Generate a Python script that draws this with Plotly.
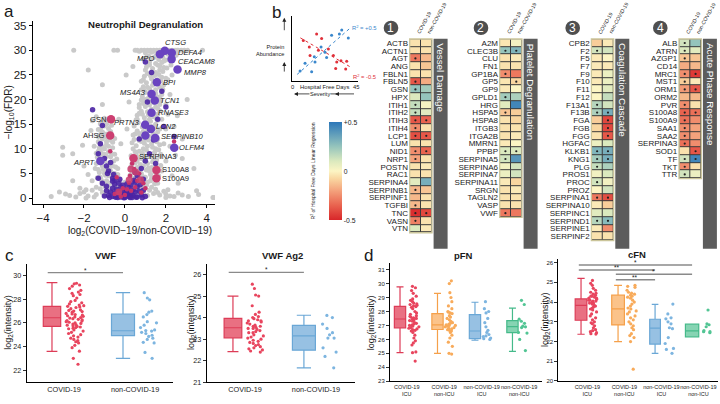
import numpy as np
import plotly.graph_objects as go

W, H = 720, 404
def PX(x): return x / W
def PY(y): return 1 - y / H

FONT = "Liberation Sans, Arial, Helvetica, sans-serif"
TXT = "#1a1a1a"

# ---------------- Panel a: volcano data ----------------
gray_pts = [
    (-3.6,0.3),(-2.9,0.8),(-2.4,0.2),(-2.0,1.2),(-1.8,0.4),(-1.6,1.6),(-1.4,0.7),(-1.2,1.9),(-1.0,0.5),(-0.9,1.4),
    (-0.8,2.2),(-0.7,0.9),(-0.6,1.7),(-0.5,0.3),(-0.4,2.0),(-0.3,1.1),(-0.2,2.4),(-0.1,0.6),(0.0,1.5),(0.1,2.3),
    (0.2,0.8),(0.3,1.8),(0.4,0.4),(0.5,2.1),(0.6,1.2),(0.7,0.6),(0.8,1.9),(0.9,1.0),(1.0,2.4),(1.1,0.5),
    (1.2,1.6),(1.3,2.2),(1.4,0.9),(1.5,1.8),(1.7,0.6),(1.9,1.4),(2.2,0.4),(2.6,1.0),(3.1,0.3),(3.6,0.7),(4.3,0.1),
    (-2.7,0.5),(-2.2,0.9),(-1.5,0.2),(-1.1,1.1),(2.0,0.8),(2.4,0.3),(2.8,0.6),(1.6,1.1),(-1.9,1.7),(2.1,1.7),
    (-0.5,2.5),(-0.7,3),(-0.9,3.5),(-1.1,2.8),(-0.6,4),(-0.8,4.5),(-1.0,5),(-1.2,4.2),(-0.7,5.5),(-0.9,6),
    (-1.1,6.5),(-1.3,5.8),(-0.8,7),(-1.0,7.5),(-1.2,8),(-0.9,8.5),(-1.1,9),(-1.3,9.5),(-1.0,10),(-0.8,10.5),
    (-1.2,11),(-0.9,11.5),(-1.1,12),(-1.3,12.5),(-1.0,13),(-0.7,13.5),(-1.2,14),(-0.9,15),(-1.1,15.5),(-1.4,16.5),
    (-0.6,6.5),(-0.5,5),(-1.4,7),(-1.5,10.5),(-1.6,3.5),(-1.4,2.2),(-0.4,3.5),(-0.35,6),(-0.3,1.8),
    (-0.45,4.5),(-0.55,7.5),(-0.65,9),(-0.75,11.8),(-0.85,13),(-1.25,10.2),(-1.35,8.3),(-1.45,6.0),(-1.15,3.6),(-0.95,2.2),
    (-0.25,3.2),(-0.35,4.8),(-0.45,6.3),(-0.55,3.9),(-0.65,5.1),(-0.75,6.2),(-0.85,3.2),(-0.95,4.6),(-1.05,5.8),(-1.15,7.1),
    (-1.25,5.2),(-1.35,4.1),(-0.4,7.9),(-0.5,8.9),(-0.6,10.2),(-0.7,8.4),(-0.8,9.4),(-0.9,10.8),(-1.0,8.9),(-1.1,10.4),
    (-1.2,9.6),(-1.3,11.4),(-1.4,9.1),(-0.5,12.1),(-0.6,11.3),(-0.7,12.6),(-0.8,14.1),(-0.9,12.4),(-1.0,14.6),(-1.1,13.4),
    (-1.2,12.9),(-1.3,13.9),(-0.65,14.8),(-0.85,15.8),(-1.0,16.2),(-1.2,15.1),
    (0.3,2.5),(0.5,3),(0.7,3.5),(0.9,2.8),(1.1,3.2),(0.4,4),(0.6,4.5),(0.8,5),(1.0,4.2),(1.2,5.5),
    (0.5,5.5),(0.7,6),(0.9,6.5),(1.1,7),(1.3,6.2),(0.6,7.5),(0.8,8),(1.0,8.5),(1.2,9),(1.4,8),
    (0.7,9.5),(0.9,10),(1.1,10.5),(1.3,11),(1.5,10),(0.8,11.5),(1.0,12),(1.2,12.5),(1.4,13),(1.6,12),
    (0.9,13.5),(1.1,14),(1.3,14.5),(1.5,15),(1.7,14),(1.0,15.5),(1.2,16),(1.4,16.5),(1.6,17),(1.8,16),
    (1.1,17.5),(1.3,18),(1.5,18.5),(1.7,19),(1.2,19.5),(1.4,20),(1.6,20.5),(1.8,21),(1.3,21.5),(1.5,22),
    (1.7,22.5),(1.9,23),(1.4,23.5),(1.6,24),(1.8,24.5),(1.5,25.5),(1.7,26),(1.9,26.5),(1.6,27),(1.8,27.5),
    (2.0,28),(1.4,28.5),(1.2,27),(1.0,26),(0.9,24),(0.8,22),(0.7,19),(0.6,16),(0.5,13),(0.4,10),
    (0.35,7),(2.0,19),(2.1,17),(2.2,21),(2.0,14),(1.9,11),(1.7,8.5),(1.5,6.5),(1.3,4),(2.3,25),
    (2.1,24),(1.1,22.5),(1.0,20),(1.6,3.0),(1.8,5.5),(2.0,7.5),(2.2,10.5),(2.4,14.5),(0.55,8.8),(0.75,12.6),
    (0.85,17),(1.25,24.8),(1.05,28.6),(1.75,29.0),(2.25,27.0),(2.5,29.0),
    (0.0,3.2),(0.15,2.8),(0.45,3.6),(0.65,2.3),(0.85,3.9),(1.05,2.6),(1.25,3.5),(1.45,2.9),(1.55,3.8),
    (0.25,4.6),(0.45,5.8),(0.65,5.1),(0.85,4.4),(1.05,5.7),(1.25,4.8),(1.45,5.3),(1.65,4.5),(0.35,5.2),
    (0.3,6.4),(0.5,7.1),(0.75,6.8),(0.95,7.6),(1.15,6.1),(1.35,7.3),(1.55,7.7),(1.75,6.6),(0.6,6.2),
    (0.3,8.6),(0.5,9.4),(0.65,8.2),(0.85,9.1),(1.05,9.7),(1.25,8.4),(1.45,9.3),(1.65,9.8),(1.75,8.9),
    (0.35,11.2),(0.55,10.6),(0.7,11.7),(0.95,11.1),(1.15,11.8),(1.35,10.3),(1.55,11.4),(1.7,10.8),(0.45,11.9),
    (0.4,12.8),(0.6,13.6),(0.8,12.3),(1.05,13.2),(1.25,13.8),(1.45,12.6),(1.6,13.4),(0.7,13.1),
    (0.45,14.6),(0.65,15.3),(0.85,14.4),(1.05,14.8),(1.25,15.6),(1.45,14.2),(1.6,15.8),(0.55,15.9),
    (0.6,16.8),(0.8,17.6),(0.95,16.3),(1.15,16.9),(1.35,17.4),(1.55,16.1),(1.7,17.7),(0.7,17.2),
    (0.7,18.4),(0.9,19.2),(1.0,18.6),(1.2,18.9),(1.4,19.4),(1.6,18.2),(1.75,19.7),(0.8,19.9),
    (0.85,20.6),(1.0,21.4),(1.15,20.3),(1.3,20.9),(1.5,21.2),(1.7,20.4),(0.95,21.8),
    (0.9,22.6),(1.05,23.4),(1.2,22.2),(1.35,22.9),(1.55,23.2),(1.75,23.8),(1.85,22.1),
    (0.95,24.7),(1.1,25.3),(1.3,24.2),(1.45,24.9),(1.65,25.1),(1.85,25.7),(2.0,24.3),
    (1.05,26.6),(1.2,27.6),(1.35,26.3),(1.5,27.3),(1.7,26.8),(1.9,27.8),(2.05,26.4),
    (0.9,28.2),(1.15,28.9),(1.3,28.4),(1.5,28.8),(1.65,28.1),(1.85,28.7),(2.1,29.2),(2.3,28.6),
    (0.8,30),(0.95,30),(1.1,30),(1.25,30),(1.4,30),(1.55,30),(1.7,30),(1.85,30),(2.0,30),(2.15,30),
    (2.3,30),(2.45,30),(2.6,30),(2.75,30),(2.9,30),(1.0,29.5),(1.3,29.6),(1.6,29.4),(1.9,29.6),(2.2,29.5),
    (2.5,29.6),(0.6,30),(0.5,30),(0.7,29.8),(1.2,29.9),(1.45,29.8),(1.8,29.9),(2.05,29.8),(2.35,29.9),(2.55,30),
    (-0.36,30),(-0.54,30),(-2.5,30),(3.06,30),(3.79,30),(4.6,30),
    (-3.04,10.3),(-2.55,9.0),(-2.07,10.7),(-1.66,13.7),(-1.59,15.7),(-1.1,19),(-1.79,26),(-1.1,23),(0.06,25),(0.39,26.7),
    (0.8,23.7),(3.04,20),(2.56,16.7),(2.8,12),(2.47,8.7),(2.8,8),(3.37,6),(-3.04,8.7),(-2.55,3.5),(-1.9,0),
    (2.0,0.1),(4.35,0.1),(-2.0,6.5),(-1.8,4.8),(2.3,4.5),(2.6,3),(-3.2,1.2),(3.5,1.5),(-0.2,11),(0.1,14),
    (-0.3,16),(0.2,19.5),(-2.2,2),
]
gray_x = [p[0] for p in gray_pts]
gray_y = [p[1] for p in gray_pts]

purple_x = [-0.8,-0.6,-0.4,-0.2,0.0,0.2,0.4,0.6,0.8,-0.7,-0.5,-0.3,-0.1,0.1,0.3,0.5,0.7,
            -0.6,-0.4,-0.2,0.0,0.2,0.4,0.6,-0.5,-0.3,-0.1,0.1,0.3,0.5,-0.9,0.9,-1.0,1.0,-0.35,0.35,0.0,-0.15,0.15,
            -1.3,-1.0,-0.9,-0.8,-0.6,-1.3,-1.1,-0.5,-1.58,-1.1,-1.2,-0.7,
            0.6,0.8,1.0,1.2,0.5,0.9,1.4,1.8,1.0,1.3,1.6,2.0,0.7,1.1,1.5,2.4,1.9,
            -0.75,-0.45,-0.05,0.25,0.55,0.85,-0.9,-0.6,-0.25,0.45,0.75,-0.85,-0.55]
purple_y = [0.5,0.3,0.6,0.2,0.4,0.3,0.5,0.2,0.6,1.2,1.0,1.4,1.1,1.3,1.0,1.2,1.4,
            2.0,1.8,2.2,1.9,2.1,1.7,2.3,2.8,3.0,2.6,2.9,2.7,3.2,1.5,1.6,0.4,0.3,0.1,0.1,0.1,0.8,0.8,
            9,8,6.5,5.5,4,4,3,3.6,17.9,14.7,11,7.2,
            4.5,6,7.5,9,5.2,3.8,11.8,21.7,27.6,25.5,16,18.5,12,19.5,7,12.5,14.5,
            0.1,0.15,0.05,0.1,0.15,0.05,2.4,3.4,3.8,3.6,2.7,5.0,4.8]
red_x = [-0.3,0.0,0.3,0.5,-0.5,0.2,-0.1,0.45,0.7,0.25,0.6,0.9,1.0,-0.72,-0.4,2.4,0.35,-0.2,0.8,0.1]
red_y = [1.0,0.6,1.5,2.2,0.8,3.1,2.0,5.9,5.0,4.5,3.5,3.0,2.0,9.5,4.2,11.5,7.0,0.3,1.1,1.8]
red_mid_x = [0.29,0.52,0.76,0.21,-0.3]
red_mid_y = [5.9,5.3,3.7,3.7,1.2]

label_genes = ["CTSG","DEFA4","MPO","CEACAM8","MMP8","BPI","MS4A3","TCN1","RNASE3","PRTN3",
               "LCN2","SERPINB10","OLFM4","APRT","GSN","AHSG","SERPINA3","S100A8","S100A9"]
label_x = [1.95,2.29,1.71,2.28,2.57,1.56,1.30,1.46,1.30,0.99,1.27,1.48,2.41,-1.2,-0.68,-0.72,0.42,1.54,1.54]
label_y = [29.9,29.5,29.2,28.2,26.1,23.5,21.1,19.8,17.3,14.9,14.0,12.2,10.2,7.5,16.0,12.7,8.1,5.7,4.0]
label_kind = ["p"]*14 + ["r"]*5
big_unlabeled_x = [1.0]
big_unlabeled_y = [12.7]
label_place = [("l",-2,8),("l",4,0),("r",-4,-4),("l",4,-2),("l",4,-3),("l",4,0),("r",-4,2),("l",3,0),("l",4,0),("r",-3,2),
               ("l",3,3),("l",4,1),("l",3,0),("r",-3,-1),("r",-3,0),("r",-3,0),("l",3,2),("l",4,0),("l",4,0)]

# ---------------- Panel b: schematic + heatmaps ----------------
sch_red_x = [7.7,11.8,16.8,20.2,18.0,12.3,24.8,28.2,30.5,33.4,29.8,37.3,36.6]
sch_red_y = [6.2,5.2,7.2,6.5,4.7,3.9,4.9,3.9,2.9,3.1,1.9,3.0,1.8]
sch_blue_x = [5.5,13.4,8.9,15.7,15.2,19.8,22.5,27.0,32.3,33.9,38.4,23.6]
sch_blue_y = [1.5,1.4,2.7,2.9,3.7,5.2,4.4,7.0,7.2,7.8,6.6,3.6]

hm_columns = ["COVID-19", "non-COVID-19"]

g1_genes = ["ACTB","ACTN1","AGT","ANG","FBLN1","FBLN5","GSN","HPX","ITIH1","ITIH2","ITIH3","ITIH4","LCP1",
            "LUM","NID1","NRP1","POSTN","RAC1","SERPINA4","SERPINB1","SERPINF1","TGFBI","TNC","VASN","VTN"]
g1_cov = [-0.05,-0.05,-0.3,-0.05,-0.05,-0.38,0.25,0.1,0.15,0.15,-0.38,-0.25,-0.4,-0.05,-0.25,-0.2,-0.05,-0.05,0.08,-0.15,-0.15,-0.15,-0.48,-0.28,0.1]
g1_non = [-0.05,-0.05,-0.15,-0.12,-0.05,-0.18,0.22,0.25,0.02,0.08,-0.35,-0.05,-0.38,-0.05,-0.35,-0.05,-0.03,-0.05,0.32,-0.12,-0.05,-0.05,-0.42,-0.05,-0.03]
g1_cov_sig = [0,0,1,0,0,1,1,0,1,1,1,1,1,0,1,1,0,0,0,1,0,1,1,1,0]
g1_non_sig = [0,0,0,0,0,0,0,0,0,0,1,0,1,0,1,0,0,0,0,0,0,0,1,0,0]

g2_genes = ["A2M","CLEC3B","CLU","FN1","GP1BA","GP5","GP9","GPLD1","HRG","HSPA5","HSPA8","ITGB3","ITGA2B",
            "MMRN1","PPBP","SERPINA5","SERPINA6","SERPINA7","SERPINA11","SRGN","TAGLN2","VASP","VWF"]
g2_cov = [-0.04,0.25,-0.05,-0.05,-0.25,-0.04,-0.03,0.22,0.08,-0.12,-0.05,-0.05,-0.05,-0.03,0.1,0.12,0.03,0.05,-0.03,-0.05,-0.05,-0.05,-0.3]
g2_non = [0.03,0.3,-0.03,-0.05,-0.3,-0.08,0.0,0.2,0.45,-0.1,-0.08,-0.05,-0.03,0.0,0.1,0.4,0.12,0.12,-0.08,-0.03,-0.05,-0.05,-0.3]
g2_cov_sig = [0,1,0,0,1,0,0,1,0,1,0,0,0,0,1,1,0,0,0,0,0,0,1]
g2_non_sig = [0,1,0,0,0,1,0,0,0,0,0,0,0,0,1,0,0,0,0,0,0,0,0]

g3_genes = ["CPB2","F2","F5","F7","F9","F10","F11","F12","F13A1","F13B","FGA","FGB","FGG","HGFAC","KLKB1",
            "KNG1","PLG","PROS1","PROC","PROZ","SERPINA1","SERPINA10","SERPINC1","SERPIND1","SERPINE1","SERPINF2"]
g3_cov = [-0.1,0.12,-0.03,-0.03,-0.03,-0.03,0.0,0.0,0.18,0.2,-0.1,-0.08,-0.05,0.05,0.3,0.22,0.15,0.03,0.12,0.0,-0.3,-0.03,0.08,0.18,-0.03,-0.05]
g3_non = [-0.03,0.12,0.0,-0.03,0.05,0.05,0.08,0.15,0.12,0.32,-0.42,-0.42,-0.38,0.1,0.32,0.32,0.2,0.1,0.03,0.12,-0.4,-0.1,0.1,0.28,-0.25,-0.05]
g3_cov_sig = [0,1,0,0,0,0,0,0,1,1,0,0,0,0,1,1,1,0,1,0,1,0,0,1,0,0]
g3_non_sig = [0,0,0,0,0,0,0,0,0,1,1,1,1,0,1,1,0,0,0,0,1,0,0,1,0,0]

g4_genes = ["ALB","ATRN","AZGP1","CD14","MRC1","MST1","ORM1","ORM2","PVR","S100A8","S100A9","SAA1","SAA2",
            "SERPINA3","SOD1","TF","TKT","TTR"]
g4_cov = [0.12,0.1,-0.12,-0.18,-0.25,-0.1,-0.22,-0.15,-0.25,-0.35,-0.32,-0.25,-0.25,-0.32,-0.05,0.12,-0.25,0.12]
g4_non = [0.25,0.08,-0.12,-0.15,-0.45,-0.03,-0.38,-0.15,-0.05,-0.32,-0.25,-0.2,-0.2,-0.25,-0.38,0.45,-0.05,0.05]
g4_cov_sig = [1,1,1,0,1,1,1,0,1,1,1,1,1,1,0,1,1,1]
g4_non_sig = [0,0,0,0,1,0,1,0,0,1,0,0,0,0,1,1,0,0]

group_titles = ["Vessel Damage", "Platelet Degranulation", "Coagulation Cascade", "Acute Phase Response"]
group_numbers = ["1", "2", "3", "4"]

# ---------------- Panel c: VWF ----------------
c_groups = ["COVID-19", "non-COVID-19"]
vwf_q1 = [25.7, 24.92]; vwf_med = [26.43, 25.33]; vwf_q3 = [27.4, 26.75]
vwf_lo = [23.58, 23.0]; vwf_hi = [29.4, 28.55]
vwf_covid = [29.35,29.3,29.2,29.1,28.9,28.75,28.6,28.5,28.4,28.3,28.1,27.9,27.8,27.7,27.6,27.5,27.45,27.4,27.35,27.3,
             27.2,27.1,27.0,26.95,26.9,26.8,26.75,26.7,26.6,26.55,26.5,26.45,26.4,26.35,26.3,26.25,26.2,26.1,26.05,26.0,
             25.95,25.9,25.85,25.8,25.75,25.7,25.65,25.6,25.5,25.4,25.3,25.2,25.1,25.0,24.9,24.8,24.7,24.6,24.5,24.4,
             24.3,24.1,23.9,23.6,23.0,22.5,26.15,26.65,27.05,25.55]
vwf_noncovid = [28.55,28.1,27.95,27.0,26.9,26.7,26.5,26.1,26.0,25.8,25.6,25.4,25.35,25.3,25.2,25.1,24.95,24.85,
                24.7,24.6,24.35,24.3,23.5,23.0]
ag2_q1 = [23.06, 22.49]; ag2_med = [23.53, 23.15]; ag2_q3 = [23.96, 23.64]
ag2_lo = [22.42, 21.67]; ag2_hi = [25.0, 24.11]
ag2_covid = [25.55,25.35,25.05,25.0,24.55,24.25,24.15,24.05,24.0,23.95,23.9,23.85,23.8,23.75,23.7,23.65,23.6,23.55,
             23.5,23.5,23.45,23.4,23.35,23.3,23.3,23.2,23.15,23.1,23.05,23.0,22.95,22.9,22.8,22.75,22.7,22.65,
             22.6,22.55,22.5,22.45,22.4,23.85,23.6,22.85]
ag2_noncovid = [24.1,24.0,23.7,23.5,23.3,23.2,23.05,23.05,22.6,22.4,22.2,21.67]
vwf_sig = [(0, 1, "*", 30.25)]
ag2_sig = [(0, 1, "*", 26.1)]

# ---------------- Panel d: fibronectin ----------------
d_groups = ["COVID-19<br>ICU", "COVID-19<br>non-ICU", "non-COVID-19<br>ICU", "non-COVID-19<br>non-ICU"]
pfn_q1 = [26.83, 26.71, 26.06, 26.48]; pfn_med = [27.46, 27.04, 26.6, 26.92]; pfn_q3 = [28.36, 27.84, 27.77, 27.35]
pfn_lo = [25.05, 25.0, 25.94, 25.14]; pfn_hi = [29.77, 29.3, 28.66, 28.24]
pfn_pts = [
    [29.8,29.7,29.5,29.3,29.1,28.9,28.8,28.7,28.6,28.55,28.5,28.45,28.4,28.35,28.3,28.2,28.0,27.9,27.8,27.7,27.65,
     27.6,27.55,27.5,27.45,27.4,27.35,27.3,27.2,27.15,27.1,27.05,27.0,26.95,26.9,26.85,26.8,26.75,26.7,26.65,26.6,
     26.5,26.3,26.1,25.9,25.75,25.6,25.1,25.05,24.45],
    [30.2,30.0,29.35,29.0,28.7,28.4,28.2,28.0,27.95,27.9,27.85,27.7,27.6,27.5,27.4,27.3,27.2,27.15,27.1,27.05,27.0,
     27.0,26.95,26.9,26.85,26.8,26.75,26.7,26.65,26.6,26.5,26.3,26.1,25.8,25.5,25.0,24.95],
    [28.7,28.2,28.0,27.9,27.5,27.2,26.9,26.65,26.5,26.35,26.25,26.2,26.1,26.05,26.0],
    [28.8,28.5,27.45,27.3,27.15,26.95,26.9,26.85,26.5,26.45,26.0,25.2],
]
cfn_q1 = [23.08, 22.84, 21.87, 22.24]; cfn_med = [23.83, 23.66, 22.68, 22.54]; cfn_q3 = [24.16, 24.35, 23.13, 22.88]
cfn_lo = [22.37, 22.0, 21.4, 22.24]; cfn_hi = [25.2, 24.85, 23.88, 22.88]
cfn_pts = [
    [25.1,24.95,24.85,24.7,24.6,24.5,24.45,24.4,24.35,24.3,24.25,24.2,24.15,24.1,24.05,24.0,23.95,23.9,23.85,23.8,
     23.75,23.7,23.6,23.5,23.4,23.3,23.2,23.1,23.0,22.9,22.8,22.7,22.6,22.55,22.5,22.45,22.4,22.38,24.3,24.1,24.2,
     23.95,24.05,23.65,22.95],
    [24.85,24.8,24.75,24.6,24.5,24.45,24.4,24.35,24.3,24.25,24.2,24.1,24.0,23.9,23.8,23.7,23.65,23.55,23.5,23.4,23.3,
     23.2,23.1,23.0,22.9,22.8,22.7,22.6,22.4,22.3,22.2,22.0,20.6],
    [23.9,23.4,23.2,23.15,23.0,22.9,22.7,22.65,22.2,21.9,21.65,21.6,21.4],
    [23.6,22.9,22.85,22.75,22.55,22.5,22.5,22.45],
]
cfn_sig = [(0, 3, "*", 25.88), (0, 2, "**", 25.63), (1, 3, "*", 25.41), (1, 2, "**", 25.13)]

# ---------------- styles ----------------
HM_SCALE = [[0.0, "#d8262a"], [0.15, "#e9634f"], [0.3, "#f4a27c"], [0.42, "#f9d6a0"], [0.5, "#fcf5c4"],
            [0.6, "#dbe9be"], [0.75, "#95c4bc"], [1.0, "#2c77b9"]]
C_RED = dict(line="#dd3c57", fill="rgba(228,80,102,0.82)", pt="#e8455e")
C_BLUE = dict(line="#6aa7d6", fill="rgba(125,177,220,0.8)", pt="#7db5e0")
C_ORANGE = dict(line="#f5a04a", fill="rgba(250,182,112,0.82)", pt="#f8ab5b")
C_GREEN = dict(line="#45ba8a", fill="rgba(104,201,160,0.8)", pt="#52c594")

fig = go.Figure()
layout = {}
ann = []
shapes = []

def add_text(x, y, text, size=8, color=TXT, xa="center", ya="middle", angle=0, bold=False, italic=False, **kw):
    t = text
    if bold: t = "<b>" + t + "</b>"
    if italic: t = "<i>" + t + "</i>"
    ann.append(dict(x=PX(x), y=PY(y), xref="paper", yref="paper", text=t, showarrow=False,
                    font=dict(size=size, color=color, family=FONT), xanchor=xa, yanchor=ya, textangle=angle, **kw))

# ================= Panel a =================
fig.add_trace(go.Scatter(x=gray_x, y=gray_y, mode="markers", xaxis="x", yaxis="y",
                         marker=dict(color="#c9c9c9", size=5, line=dict(width=0)), hoverinfo="skip"))
fig.add_trace(go.Scatter(x=purple_x, y=purple_y, mode="markers", xaxis="x", yaxis="y",
                         marker=dict(color="#4a24a4", size=5.5, opacity=0.9, line=dict(width=0)), hoverinfo="skip"))
fig.add_trace(go.Scatter(x=red_x, y=red_y, mode="markers", xaxis="x", yaxis="y",
                         marker=dict(color="#c7336c", size=4.5, line=dict(width=0)), hoverinfo="skip"))
fig.add_trace(go.Scatter(x=red_mid_x, y=red_mid_y, mode="markers", xaxis="x", yaxis="y",
                         marker=dict(color="#c93f70", size=7, opacity=0.9, line=dict(width=0)), hoverinfo="skip"))
bp_x = [x for x, k in zip(label_x, label_kind) if k == "p"] + big_unlabeled_x
bp_y = [y for y, k in zip(label_y, label_kind) if k == "p"] + big_unlabeled_y
br_x = [x for x, k in zip(label_x, label_kind) if k == "r"]
br_y = [y for y, k in zip(label_y, label_kind) if k == "r"]
fig.add_trace(go.Scatter(x=bp_x, y=bp_y, mode="markers", xaxis="x", yaxis="y",
                         marker=dict(color="#6a44c0", size=8.5, line=dict(width=0)), hoverinfo="skip"))
fig.add_trace(go.Scatter(x=br_x, y=br_y, mode="markers", xaxis="x", yaxis="y",
                         marker=dict(color="#cc3f71", size=8.5, line=dict(width=0)), hoverinfo="skip"))
for g, x, y, k, (side, xs, ys) in zip(label_genes, label_x, label_y, label_kind, label_place):
    t = g if k == "r" else "<i>" + g + "</i>"
    ann.append(dict(x=x, y=y, xref="x", yref="y", text=t, showarrow=False,
                    font=dict(size=7.6, color=TXT, family=FONT),
                    xanchor="left" if side == "l" else "right", yanchor="middle", xshift=xs, yshift=ys))

layout["xaxis"] = dict(domain=[PX(33), PX(215)], range=[-4.49, 4.4], anchor="y", showline=True, linecolor="black",
                       linewidth=1.2, ticks="outside", ticklen=3, tickcolor="black", tickvals=[-4, -2, 0, 2, 4],
                       ticktext=["\u22124", "\u22122", "0", "2", "4"], tickfont=dict(size=11.5, color=TXT, family=FONT),
                       showgrid=False, zeroline=False)
layout["yaxis"] = dict(domain=[PY(206), PY(20)], range=[-1.2, 36], anchor="x", showline=True, linecolor="black",
                       linewidth=1.2, ticks="outside", ticklen=3, tickcolor="black", tickvals=list(range(0, 36, 5)),
                       tickfont=dict(size=11.5, color=TXT, family=FONT), showgrid=False, zeroline=False)
add_text(2, 11, "a", size=17, xa="left")
add_text(145, 24, "Neutrophil Degranulation", size=9.6, bold=True)
add_text(140, 233.5, "log<sub>2</sub>(COVID\u221219/non-COVID\u221219)", size=10)
add_text(9, 113, "\u2212log<sub>10</sub>(FDR)", size=10, angle=-90)

# ================= Panel b: schematic =================
fig.add_trace(go.Scatter(x=sch_red_x, y=sch_red_y, mode="markers", xaxis="x2", yaxis="y2",
                         marker=dict(color="#e0303a", size=3), hoverinfo="skip"))
fig.add_trace(go.Scatter(x=sch_blue_x, y=sch_blue_y, mode="markers", xaxis="x2", yaxis="y2",
                         marker=dict(color="#3a87cc", size=3), hoverinfo="skip"))
for xs_, ys_, col in [(sch_red_x, sch_red_y, "#e0303a"), (sch_blue_x, sch_blue_y, "#3a87cc")]:
    m, b = np.polyfit(xs_, ys_, 1)
    xe = np.array([min(xs_) - 2, max(xs_) + 2])
    fig.add_trace(go.Scatter(x=xe, y=m * xe + b, mode="lines", xaxis="x2", yaxis="y2",
                             line=dict(color=col, width=1, dash="dot"), hoverinfo="skip"))
layout["xaxis2"] = dict(domain=[PX(292), PX(358)], range=[0, 45], anchor="y2", showline=True, linecolor="black",
                        linewidth=1.5, showticklabels=False, ticks="", showgrid=False, zeroline=False)
layout["yaxis2"] = dict(domain=[PY(81), PY(15)], range=[0, 10], anchor="x2", showline=True, linecolor="black",
                        linewidth=1.5, showticklabels=False, ticks="", showgrid=False, zeroline=False)
add_text(270, 12, "b", size=17, xa="left")
add_text(286, 50.5, "Protein<br>Abundance", size=5.6, xa="right", align="right")
for yh, yt in [(17, 38), (62, 80)]:
    ann.append(dict(x=PX(284.3), y=PY(yh), xref="paper", yref="paper", ax=0, ay=yt - yh, axref="pixel", ayref="pixel",
                    showarrow=True, arrowhead=2, arrowsize=1, arrowwidth=0.8, arrowcolor="#222", text=" "))
add_text(292.7, 87.5, "0", size=5.8)
add_text(324.5, 87.5, "Hospital Free Days", size=5.8)
add_text(356, 87.5, "45", size=5.8)
ann.append(dict(x=PX(294), y=PY(94.3), xref="paper", yref="paper", ax=63, ay=0, showarrow=True, arrowhead=2,
                arrowsize=1, arrowwidth=0.8, arrowcolor="#222", text=" "))
add_text(320, 94.3, "Severity", size=5.6, bgcolor="white", borderpad=0)
ann.append(dict(x=PX(335), y=PY(94.3), xref="paper", yref="paper", ax=5, ay=0, showarrow=True, arrowhead=2,
                arrowsize=1, arrowwidth=0.8, arrowcolor="#222", text=" "))
add_text(350, 26.5, "R<sup>2</sup> = +0.5", size=5.8, color="#3a87cc", xa="left")
add_text(351, 76.5, "R<sup>2</sup> = -0.5", size=5.8, color="#e0303a", xa="left")
add_text(313, 173, "R<sup>2</sup> of Hospital Free Days Linear Regression", size=5, angle=-90)

# ================= Panel b: heatmaps =================
HEAT_X0 = [410.0, 500.0, 591.7, 679.3]
HEAT_W = 21.7
HEAT_TOP = 38.7
ROW_H = 7.85
BAR_BOTTOM = 251.5
groups = [
    (g1_genes, g1_cov, g1_non, g1_cov_sig, g1_non_sig),
    (g2_genes, g2_cov, g2_non, g2_cov_sig, g2_non_sig),
    (g3_genes, g3_cov, g3_non, g3_cov_sig, g3_non_sig),
    (g4_genes, g4_cov, g4_non, g4_cov_sig, g4_non_sig),
]
for k, (genes, cov, non, cs, ns) in enumerate(groups):
    ai = 3 + k
    xa, ya = "x%d" % ai, "y%d" % ai
    n = len(genes)
    x0 = HEAT_X0[k]; x1 = x0 + HEAT_W
    y0 = HEAT_TOP; y1 = HEAT_TOP + n * ROW_H
    z = [[c, v] for c, v in zip(cov, non)]
    hm = dict(z=z, x=[0, 1], y=genes, zmin=-0.5, zmax=0.5, colorscale=HM_SCALE, xgap=1, ygap=1,
              xaxis=xa, yaxis=ya, hoverinfo="skip", showscale=(k == 0))
    if k == 0:
        hm["colorbar"] = dict(x=PX(319), xanchor="left", y=PY(173), yanchor="middle", len=120 / H, lenmode="fraction",
                              thickness=13, thicknessmode="pixels", tickvals=[-0.5, 0, 0.5],
                              ticktext=["-0.5", "0", "+0.5"], ticks="", outlinewidth=0,
                              tickfont=dict(size=6.8, color=TXT, family=FONT))
    fig.add_trace(go.Heatmap(**hm))
    sx, sy = [], []
    for gname, a, b in zip(genes, cs, ns):
        if a: sx.append(0); sy.append(gname)
        if b: sx.append(1); sy.append(gname)
    fig.add_trace(go.Scatter(x=sx, y=sy, mode="markers", xaxis=xa, yaxis=ya,
                             marker=dict(color="#222", size=2.2), hoverinfo="skip"))
    layout["xaxis%d" % ai] = dict(domain=[PX(x0), PX(x1)], range=[-0.5, 1.5], anchor=ya, visible=False,
                                  showgrid=False, zeroline=False)
    layout["yaxis%d" % ai] = dict(domain=[PY(y1), PY(y0)], range=[n - 0.5, -0.5], anchor=xa, showgrid=False,
                                  zeroline=False, ticks="", showline=False, tickmode="array", tickvals=genes,
                                  ticktext=genes, tickfont=dict(size=8.0, color=TXT, family=FONT),
                                  ticklabelstandoff=1)
    shapes.append(dict(type="rect", xref="paper", yref="paper", x0=PX(x0), x1=PX(x1), y0=PY(y1), y1=PY(y0),
                       fillcolor="#3b3b3b", line=dict(width=0), layer="below"))
    shapes.append(dict(type="rect", xref="paper", yref="paper", x0=PX(x0 - 0.3), x1=PX(x1 + 0.3), y0=PY(y1 + 0.3),
                       y1=PY(y0 - 0.3), line=dict(color="#cbc59a", width=1.3), layer="above"))
    for c, lab in enumerate(hm_columns):
        cx = x0 + HEAT_W * (c + 0.5) / 2
        add_text(cx - 3, 37, lab, size=5.2, xa="left", ya="bottom", angle=-61)
    bx0 = x1 + 1.9
    shapes.append(dict(type="rect", xref="paper", yref="paper", x0=PX(bx0), x1=PX(bx0 + 14), y0=PY(BAR_BOTTOM),
                       y1=PY(38.3), fillcolor="#5c5c5c", line=dict(width=0)))
    add_text(bx0 + 7, 41, group_titles[k], size=9.8, color="white", ya="top", angle=90)
    cxn, cyn, r = x0 - 19, 27.3, 7.3
    shapes.append(dict(type="circle", xref="paper", yref="paper", x0=PX(cxn - r), x1=PX(cxn + r), y0=PY(cyn + r),
                       y1=PY(cyn - r), fillcolor="#4f4f4f", line=dict(width=0)))
    add_text(cxn, cyn, group_numbers[k], size=12, color="white")

# ================= Box panels =================
def box_panel(ai, cats, q1, med, q3, lo, hi, pts, colors, dom_x, dom_y, xr, yr, yt, scale, box_w, pts_off,
              spread, lab_off, tick_size, lab_size, sigs, title, title_xy, ytitle_x):
    xa, ya = "x%d" % ai, "y%d" % ai
    for i in range(len(cats)):
        col = colors[i]
        fig.add_trace(go.Box(x=[i], q1=[q1[i]], median=[med[i]], q3=[q3[i]], lowerfence=[lo[i]],
                             upperfence=[hi[i]], width=box_w[i] / scale, fillcolor=col["fill"],
                             line=dict(color=col["line"], width=1.2), whiskerwidth=0.62, boxpoints=False,
                             xaxis=xa, yaxis=ya, hoverinfo="skip"))
        pw = spread / scale
        xoff = i + pts_off[i] / scale
        fig.add_trace(go.Box(x=[xoff] * len(pts[i]), y=pts[i], width=pw, boxpoints="all", jitter=1,
                             pointpos=0, fillcolor="rgba(0,0,0,0)",
                             line=dict(width=0, color="rgba(0,0,0,0)"), whiskerwidth=0,
                             marker=dict(color=col["pt"], size=3.2, line=dict(width=0)),
                             xaxis=xa, yaxis=ya, hoverinfo="skip"))
    for a, b, star, lvl in sigs:
        shapes.append(dict(type="line", xref=xa, yref=ya, x0=a - 0.06, x1=b, y0=lvl, y1=lvl,
                           line=dict(color="#8a8a8a", width=1.4)))
        ann.append(dict(x=(a - 0.06 + b) / 2, y=lvl, xref=xa, yref=ya, text=star, showarrow=False,
                        font=dict(size=6.5, color=TXT, family=FONT), yanchor="bottom", yshift=-3))
    layout["xaxis%d" % ai] = dict(domain=[PX(dom_x[0]), PX(dom_x[1])], range=xr, anchor=ya, showline=True,
                                  linecolor="black", linewidth=1, ticks="", tickmode="array",
                                  tickvals=[i + lab_off for i in range(len(cats))], ticktext=cats, tickangle=0,
                                  tickfont=dict(size=lab_size, color=TXT, family=FONT), showgrid=False,
                                  zeroline=False, ticklabelstandoff=0)
    layout["yaxis%d" % ai] = dict(domain=[PY(dom_y[1]), PY(dom_y[0])], range=yr, anchor=xa, showline=True,
                                  linecolor="black", linewidth=1, ticks="outside", ticklen=3, tickwidth=0.8,
                                  tickcolor="black", tickvals=yt, tickfont=dict(size=tick_size, color=TXT, family=FONT),
                                  showgrid=False, zeroline=False)
    add_text(title_xy[0], title_xy[1], title, size=9.5, bold=True)
    add_text(ytitle_x, (dom_y[0] + dom_y[1]) / 2, "log<sub>2</sub>(intensity)", size=9, angle=-90)

box_panel(7, c_groups, vwf_q1, vwf_med, vwf_q3, vwf_lo, vwf_hi, [vwf_covid, vwf_noncovid], [C_RED, C_BLUE],
          (26.7, 173), (266.7, 386.7), [-0.356, 1.704], [21, 31], [22, 24, 26, 28, 30], 71, [17.4, 23], [24, 26],
          21, 0.17, 7.2, 7.3, vwf_sig, "VWF", (105, 258.5), 9)
box_panel(8, c_groups, ag2_q1, ag2_med, ag2_q3, ag2_lo, ag2_hi, [ag2_covid, ag2_noncovid], [C_RED, C_BLUE],
          (206.7, 355), (266.7, 387), [-0.37, 1.72], [21, 26.5], [21, 22, 23, 24, 25, 26], 71, [17.7, 23], [23, 26],
          20, 0.17, 7.2, 7.3, ag2_sig, "VWF Ag2", (282, 258.5), 192)
D_COLS = [C_RED, C_ORANGE, C_BLUE, C_GREEN]
box_panel(9, d_groups, pfn_q1, pfn_med, pfn_q3, pfn_lo, pfn_hi, pfn_pts, D_COLS,
          (390, 541.7), (266, 386), [-0.267, 3.78], [23, 31.47], list(range(23, 32)), 37.5, [11.3] * 4,
          [14, 13, 12, 10.5], 11, 0.18, 6.0, 5.5, [], "pFN", (463, 258.5), 371)
box_panel(10, d_groups, cfn_q1, cfn_med, cfn_q3, cfn_lo, cfn_hi, cfn_pts, D_COLS,
          (558.3, 718), (262, 385.7), [-0.614, 3.70], [20, 26.18], list(range(20, 27)), 37, [11.7, 12.7, 10.7, 13.3],
          [12.5, 14, 14.5, 15], 11, 0.17, 6.0, 5.5, cfn_sig, "cFN", (637, 257), 545)
add_text(3, 258, "c", size=17, xa="left")
add_text(362, 258, "d", size=17, xa="left")

fig.update_layout(width=W, height=H, margin=dict(l=0, r=0, t=0, b=0), paper_bgcolor="white",
                  plot_bgcolor="rgba(0,0,0,0)", showlegend=False, annotations=ann, shapes=shapes,
                  font=dict(family=FONT, color=TXT), boxmode="overlay", **layout)
fig.write_html("out.html", config={"displayModeBar": False, "staticPlot": True},
               post_script="document.body.style.margin='0px';document.body.style.overflow='hidden';")
